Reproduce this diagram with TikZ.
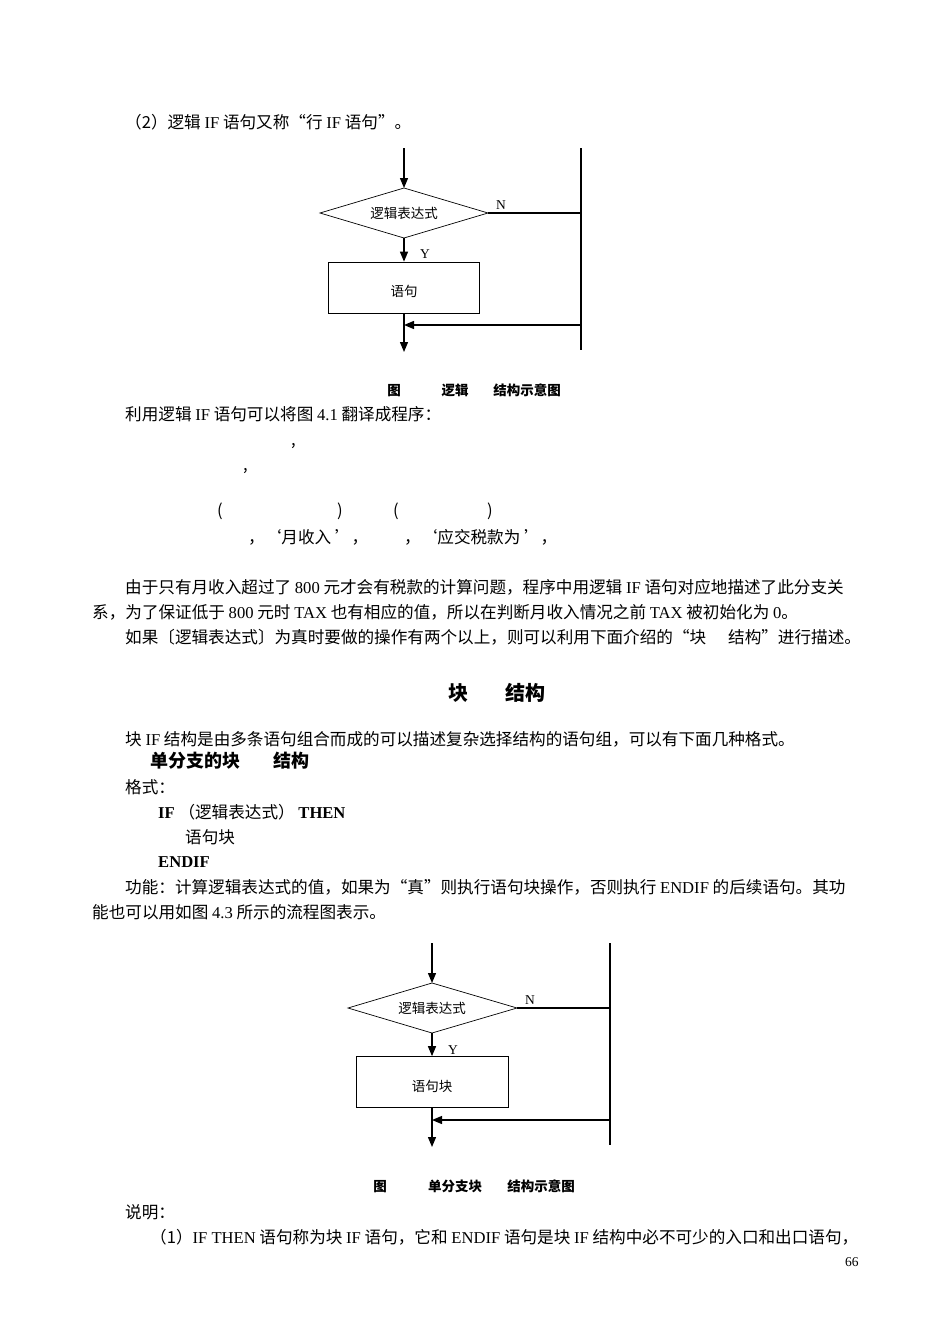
\documentclass[tikz,border=0pt]{standalone}
\usepackage{fontspec}
\setmainfont{Noto Sans CJK SC}
\newfontfamily\en{Liberation Serif}
\usetikzlibrary{arrows.meta}
\tikzset{
  t/.style={anchor=base west,inner sep=0pt,font=\fontsize{16.6}{19}\selectfont},
  s/.style={anchor=base,inner sep=0pt,font=\fontsize{13.5}{16}\selectfont},
  capt/.style={anchor=base,inner sep=0pt,font=\fontsize{13.5}{16}\selectfont\bfseries},
  ln/.style={line width=1.5pt},
  ar/.style={line width=1.3pt,-{Triangle[length=10pt,width=8pt]}},
  dia/.style={draw,line width=0.7pt},
  boxx/.style={draw,line width=0.7pt,minimum width=151pt,minimum height=51pt,inner sep=0pt}
}
\begin{document}
\begin{tikzpicture}[x=1pt,y=-1pt]
\useasboundingbox (0,0) rectangle (950,1344);
\fill[white] (0,0) rectangle (950,1344);
\node[t] (l1) at (125,128) {（2）逻辑 {\en IF} 语句又称“行 {\en IF} 语句”。};
% diagram 1
\coordinate (a1) at (404,148);
\draw[dia] (320,213) -- (404,188) -- (488,213) -- (404,238) -- cycle;
\node[s] (d1) at (404,218) {逻辑表达式};
\coordinate (d1t) at (404,188); \coordinate (d1b) at (404,238); \coordinate (d1r) at (488,213);
\node[boxx] (b1) at (404,287.5) {};
\node[s] (b1t) at (404,296) {语句};
\coordinate (r1t) at (581,148); \coordinate (r1b) at (581,350); \coordinate (r1m) at (581,213);
\coordinate (r1j) at (581,325); \coordinate (j1) at (404,325); \coordinate (e1) at (404,352);
\draw[ar] (a1) -- (d1t);
\draw[ar] (d1b) -- (b1.north);
\draw[ar] (b1.south) -- (e1);
\draw[ln] (r1t) -- (r1b);
\draw[line width=1.1pt] (d1r) -- (r1m);
\draw[ar] (r1j) -- (j1);
\node[s,font=\fontsize{13.5}{16}\selectfont\en] (n1) at (501,209) {N};
\node[s,font=\fontsize{13.5}{16}\selectfont\en] (y1) at (425,258) {Y};
\node[capt] (c1a) at (394,395) {图};
\node[capt] (c1b) at (455,395) {逻辑};
\node[capt] (c1c) at (527,395) {结构示意图};
\node[t] (l2) at (125,420) {利用逻辑 {\en IF} 语句可以将图 {\en 4.1} 翻译成程序：};
\node[t] (k1) at (291,445) {,};
\node[t] (k2) at (243,470) {,};
\node[t] (p1) at (217,516) {(};
\node[t] (p2) at (337,516) {)};
\node[t] (p3) at (393,516) {(};
\node[t] (p4) at (487,516) {)};
\node[t] (q1) at (248,543) {，‘月收入 ’，};
\node[t] (q2) at (404,543) {，‘应交税款为 ’，};
\node[t] (l3) at (125,593) {由于只有月收入超过了 {\en 800} 元才会有税款的计算问题，程序中用逻辑 {\en IF} 语句对应地描述了此分支关};
\node[t] (l4) at (92,618) {系，为了保证低于 {\en 800} 元时 {\en TAX} 也有相应的值，所以在判断月收入情况之前 {\en TAX} 被初始化为 {\en 0}。};
\node[t] (l5) at (125,643) {如果〔逻辑表达式〕为真时要做的操作有两个以上，则可以利用下面介绍的“块\hspace{22pt}结构”进行描述。};
\node[t,anchor=base,font=\fontsize{20}{22}\selectfont\bfseries] (h1) at (458,700) {块};
\node[t,anchor=base,font=\fontsize{20}{22}\selectfont\bfseries] (h2) at (525,700) {结构};
\node[t] (l6) at (125,745) {块 {\en IF} 结构是由多条语句组合而成的可以描述复杂选择结构的语句组，可以有下面几种格式。};
\node[t,font=\fontsize{18}{20}\selectfont\bfseries] (l7) at (150,767) {单分支的块};
\node[t,font=\fontsize{18}{20}\selectfont\bfseries] (l7b) at (273,767) {结构};
\node[t] (l8) at (125,793) {格式：};
\node[t] (l9) at (158,818) {{\en\bfseries IF} （逻辑表达式） {\en\bfseries THEN}};
\node[t] (l10) at (185,843) {语句块};
\node[t] (l11) at (158,867) {\en\bfseries ENDIF};
\node[t] (l12) at (125,893) {功能：计算逻辑表达式的值，如果为“真”则执行语句块操作，否则执行 {\en ENDIF} 的后续语句。其功};
\node[t] (l13) at (92,918) {能也可以用如图 {\en 4.3} 所示的流程图表示。};
% diagram 2
\coordinate (a2) at (432,943);
\draw[dia] (348,1008) -- (432,983) -- (517,1008) -- (432,1033) -- cycle;
\node[s] (d2) at (432,1013) {逻辑表达式};
\coordinate (d2t) at (432,983); \coordinate (d2b) at (432,1033); \coordinate (d2r) at (517,1008);
\node[boxx,minimum width=152pt] (b2) at (432,1082) {};
\node[s] (b2t) at (432,1091) {语句块};
\coordinate (r2t) at (610,943); \coordinate (r2b) at (610,1145); \coordinate (r2m) at (610,1008);
\coordinate (r2j) at (610,1120); \coordinate (j2) at (432,1120); \coordinate (e2) at (432,1147);
\draw[ar] (a2) -- (d2t);
\draw[ar] (d2b) -- (b2.north);
\draw[ar] (b2.south) -- (e2);
\draw[ln] (r2t) -- (r2b);
\draw[line width=1.1pt] (d2r) -- (r2m);
\draw[ar] (r2j) -- (j2);
\node[s,font=\fontsize{13.5}{16}\selectfont\en] (n2) at (530,1004) {N};
\node[s,font=\fontsize{13.5}{16}\selectfont\en] (y2) at (453,1054) {Y};
\node[capt] (c2a) at (380,1191) {图};
\node[capt] (c2b) at (455,1191) {单分支块};
\node[capt] (c2c) at (541,1191) {结构示意图};
\node[t] (l14) at (125,1218) {说明：};
\node[t] (l15) at (150,1243) {（1）{\en IF THEN} 语句称为块 {\en IF} 语句，它和 {\en ENDIF} 语句是块 {\en IF} 结构中必不可少的入口和出口语句，};
\node[t,font=\fontsize{13.5}{16}\selectfont\en] (pg) at (845,1266) {66};
\end{tikzpicture}
\end{document}
